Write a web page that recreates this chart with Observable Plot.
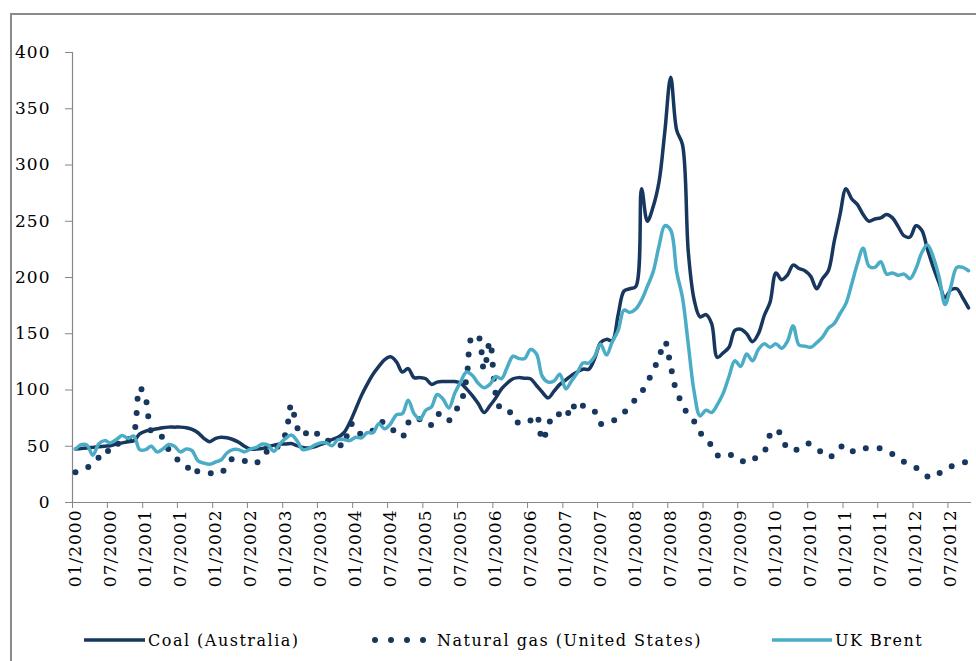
<!DOCTYPE html>
<html>
<head>
<meta charset="utf-8">
<script src="https://cdn.jsdelivr.net/npm/d3@7"></script>
<script src="https://cdn.jsdelivr.net/npm/@observablehq/plot@0.6"></script>
<style>
html, body { margin: 0; padding: 0; background: #fff; overflow: hidden; }
#wrap { position: relative; width: 976px; height: 661px; overflow: hidden; background: #fff; }
#frame { position: absolute; left: 10px; top: 13px; width: 1000px; height: 700px; z-index: 5; pointer-events: none;
  border-top: 2px solid #8a8a8a; border-left: 2px solid #8a8a8a; }
#chart { position: absolute; left: 0; top: 0; z-index: 1; }
#chart svg text { letter-spacing: 1px; }
.legend-item { position: absolute; top: 629px; height: 22px; display: flex; align-items: center; z-index: 2;
  font-family: "DejaVu Serif", serif; font-size: 16px; letter-spacing: 1.5px; color: #000; white-space: nowrap; }
.legend-item svg { display: block; margin-right: 3px; }
</style>
</head>
<body>
<div id="wrap">
  <div id="chart"></div>
  <div id="legend"></div>
  <div id="frame"></div>
</div>
<script>
// ---- Data (monthly) ----
const startMonth = "01/2000";
const seriesNames = ["Coal (Australia)", "Natural gas (United States)", "UK Brent"];
const yTicks = [0, 50, 100, 150, 200, 250, 300, 350, 400];
const xTickLabels = ["01/2000","07/2000","01/2001","07/2001","01/2002","07/2002","01/2003","07/2003",
  "01/2004","07/2004","01/2005","07/2005","01/2006","07/2006","01/2007","07/2007","01/2008","07/2008",
  "01/2009","07/2009","01/2010","07/2010","01/2011","07/2011","01/2012","07/2012"];

const coal = [
  47.5, 48, 48.5, 49, 49.5, 50, 50.5, 52, 53, 54, 55, 61,
  63.5, 64.5, 65.5, 66.5, 67, 67, 67, 66.5, 65, 62, 57, 54,
  57, 58, 57.5, 56, 53.5, 50, 47.5, 47.5, 48, 49.5, 51, 52,
  52, 52.5, 50.5, 49, 48.5, 49.5, 51.5, 53.5, 56, 58, 62, 71,
  83, 95, 105, 114, 121, 127, 129.5, 125, 116, 119, 111, 111,
  110, 105, 107, 107.5, 107.5, 107.5, 106, 101, 95, 88, 80, 86,
  93, 101, 106, 110, 111, 110.5, 110, 104, 98, 93, 99, 105,
  109, 113, 116, 118.5, 118.5, 128, 142, 145, 144, 167, 188, 190,
  192, 279, 250, 263, 285, 330, 378, 331, 318, 222, 180, 165,
  167, 159, 129, 133, 138, 153, 154, 150, 143, 150, 166, 178,
  204, 198, 202, 211, 208, 206, 201, 190, 199, 206, 232, 256,
  279, 270, 265, 256, 250, 252, 253, 256, 253, 245, 237, 236,
  246, 242, 225, 209, 195, 182, 189, 190, 182, 173
];

const gas = [
  27, 30, 31, 34, 40, 47, 45, 50, 57, 56, 62, 102,
  92, 63, 59, 58, 47, 42, 35, 33, 25, 28, 26, 26,
  26, 26, 34, 39, 39, 37, 34, 35, 40, 46, 45, 53,
  61, 87, 67, 59, 64, 64, 57, 56, 52, 52, 50, 69,
  69, 60, 61, 64, 71, 71, 67, 61, 58, 71, 69, 74,
  69, 69, 78, 79, 73, 81, 88, 110, 148, 148, 118, 143,
  96, 82, 80, 80, 70, 71, 73, 78, 55, 68, 79, 78,
  75, 88, 81, 86, 85, 81, 70, 70, 72, 76, 80, 86,
  92, 98, 107, 117, 129, 143, 121, 98, 88, 77, 72, 62,
  58, 50, 42, 40, 42, 42, 38, 35, 38, 41, 45, 60,
  65, 59, 48, 46, 48, 52, 52, 48, 44, 40, 43, 49,
  51, 46, 45, 48, 48, 49, 48, 46, 43, 40, 36, 34,
  31, 27, 23, 22, 26, 28, 32, 33, 35, 37
];

const brent = [
  47.4, 51.5, 51, 42, 52, 55, 53, 56, 59.5, 57, 59, 47,
  47, 50, 45, 47.5, 51.5, 50, 45, 47.5, 46, 37, 35, 34,
  36, 38, 44, 47, 47, 45, 47.5, 49, 52, 51, 45.5, 52,
  57, 60, 55, 47, 48, 51, 53, 53, 50.5, 56, 56, 55,
  58, 57.5, 62, 62, 70, 65.5, 70, 78, 79, 91, 79, 74,
  82, 85, 96, 92, 84, 97, 107, 116, 113, 106, 102, 105,
  112, 110, 120, 130, 128, 128, 136, 132, 112, 107, 108, 114,
  101, 108, 115, 124, 124, 130, 141, 131, 143, 153, 171, 169,
  172, 180, 192, 205, 228, 246, 242, 205, 182, 140, 98, 77,
  82, 80, 87, 97, 112, 126, 121, 132, 126, 136, 141, 138,
  141, 137, 143, 157, 140, 139, 138, 142, 147, 155, 159, 168,
  177, 194, 212, 226, 210, 209, 214, 203, 204, 202, 203, 199,
  208, 222, 229, 218, 200, 176, 192, 209, 209, 206
];

const colors = { coal: "#17375E", gas: "#17375E", brent: "#4BACC6" };
const axisGray = "#868686";

// ---- Build table ----
const parse = d3.utcParse("%m/%Y");
const fmt = d3.utcFormat("%m/%Y");
const months = d3.range(coal.length).map(i => d3.utcMonth.offset(parse(startMonth), i));
const mid = d => new Date((+d + +d3.utcMonth.offset(d, 1)) / 2);
const rows = (vals, name) => vals.map((v, i) => ({ date: mid(months[i]), value: v, series: name }));
const coalRows = rows(coal, seriesNames[0]);
const gasRows = rows(gas, seriesNames[1]);
const brentRows = rows(brent, seriesNames[2]);

const tickDates = xTickLabels.map(parse);
const labelDates = tickDates.map(mid);

const chart = Plot.plot({
  width: 976,
  height: 610,
  marginLeft: 72,
  marginRight: 5,
  marginTop: 52,
  marginBottom: 108,
  style: { fontFamily: "'DejaVu Serif', serif", fontSize: "17px", color: "#000", background: "transparent" },
  x: { type: "utc", domain: [months[0], d3.utcMonth.offset(months[months.length - 1], 1)], label: null },
  y: { domain: [0, 400], label: null },
  marks: [
    Plot.axisY(yTicks, { tickSize: 7, tickPadding: 15, stroke: axisGray, fill: "#000", label: null, fontSize: 17 }),
    Plot.axisX(tickDates, { tickSize: 6, tickFormat: () => "", stroke: axisGray, label: null }),
    Plot.axisX(labelDates, { tickSize: 0, tickPadding: 7, tickRotate: -90, tickFormat: fmt, fill: "#000", label: null, fontSize: 17 }),
    Plot.ruleX([months[0]], { stroke: axisGray, strokeWidth: 1.2 }),
    Plot.ruleY([0], { stroke: axisGray, strokeWidth: 1.2 }),
    Plot.line(coalRows, { x: "date", y: "value", stroke: colors.coal, strokeWidth: 3.5, curve: "catmull-rom" }),
    Plot.line(gasRows, { x: "date", y: "value", stroke: colors.gas, strokeWidth: 6, strokeDasharray: "0 14", strokeLinecap: "round", curve: "catmull-rom" }),
    Plot.line(brentRows, { x: "date", y: "value", stroke: colors.brent, strokeWidth: 3.5, curve: "catmull-rom" })
  ]
});
document.getElementById("chart").appendChild(chart);

// ---- Legend ----
const legend = document.getElementById("legend");
const legendDefs = [
  { name: seriesNames[0], left: 84, kind: "line", color: colors.coal, w: 61 },
  { name: seriesNames[1], left: 369, kind: "dots", color: colors.gas, w: 58 },
  { name: seriesNames[2], left: 772, kind: "line", color: colors.brent, w: 60 }
];
const NS = "http://www.w3.org/2000/svg";
for (const d of legendDefs) {
  const item = document.createElement("div");
  item.className = "legend-item";
  item.style.left = d.left + "px";
  const svg = document.createElementNS(NS, "svg");
  svg.setAttribute("width", d.w);
  svg.setAttribute("height", 10);
  if (d.kind === "line") {
    const ln = document.createElementNS(NS, "line");
    ln.setAttribute("x1", 0); ln.setAttribute("x2", d.w);
    ln.setAttribute("y1", 5); ln.setAttribute("y2", 5);
    ln.setAttribute("stroke", d.color); ln.setAttribute("stroke-width", 3.5);
    svg.appendChild(ln);
  } else {
    for (let k = 0; k < 4; k++) {
      const c = document.createElementNS(NS, "circle");
      c.setAttribute("cx", 6 + k * 16); c.setAttribute("cy", 5); c.setAttribute("r", 3);
      c.setAttribute("fill", d.color);
      svg.appendChild(c);
    }
    svg.setAttribute("width", 62);
    svg.style.marginRight = "6px";
  }
  item.appendChild(svg);
  const span = document.createElement("span");
  span.textContent = d.name;
  item.appendChild(span);
  legend.appendChild(item);
}
</script>
</body>
</html>
